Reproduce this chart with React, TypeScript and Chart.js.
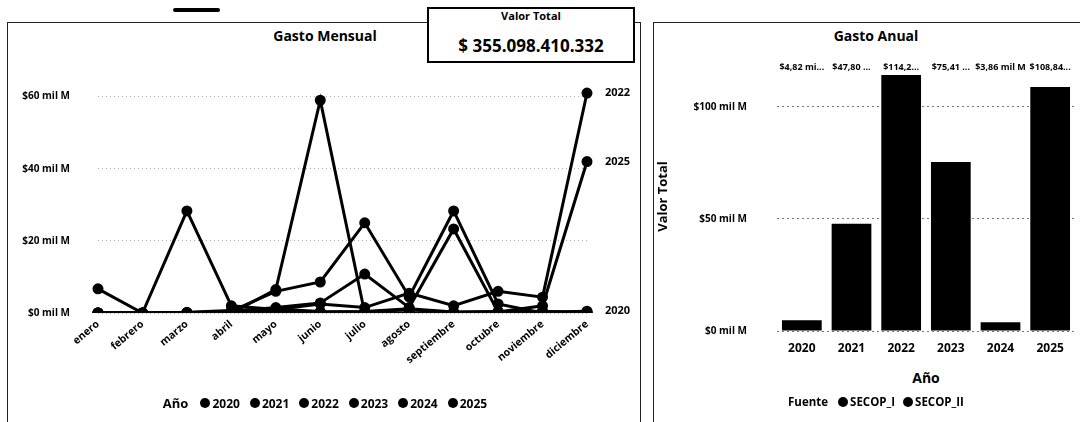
import React, { useEffect, useRef } from 'react';
import { Chart, registerables } from 'chart.js';

Chart.register(...registerables);

const FONT = "'Open Sans', 'Noto Sans', sans-serif";

// ---- Gasto Mensual (line chart) ----
const months = ['enero', 'febrero', 'marzo', 'abril', 'mayo', 'junio', 'julio', 'agosto', 'septiembre', 'octubre', 'noviembre', 'diciembre'];
const years = ['2020', '2021', '2022', '2023', '2024', '2025'];
const gasto2020 = [0, 0, 0.2, 0.7, 1.1, 0.4, 0.3, 0.9, 0.2, 0.3, 0.2, 0.5];
const gasto2021 = [6.7, 0, 0, 0.4, 1.5, 2.8, 10.8, 1.5, 23.3, 0.3, 0.5, 0];
const gasto2022 = [0, 0, 28.3, 2.0, 1.0, 2.5, 1.5, 5.5, 2.0, 6.0, 4.4, 61.0];
const gasto2023 = [0, 0, 0, 0.5, 6.0, 8.6, 25.0, 4.5, 28.3, 2.5, 0, 0];
const gasto2024 = [0, 0, 0, 0.3, 0.5, 0.2, 0.4, 1.2, 0.3, 0.4, 0.3, 0.3];
const gasto2025 = [0, 0, 0, 0, 6.5, 59.0, 0, 0, 0, 0.3, 2.0, 42.0];
const monthlySeries = [gasto2020, gasto2021, gasto2022, gasto2023, gasto2024, gasto2025];
const endLabelYears = ['2022', '2025', '2020'];

// ---- Gasto Anual (bar chart) ----
const yearsAnual = ['2020', '2021', '2022', '2023', '2024', '2025'];
const gastoAnual = [4.82, 47.8, 114.2, 75.41, 3.86, 108.84];
const anualLabels = ['$4,82 mi...', '$47,80 ...', '$114,2...', '$75,41 ...', '$3,86 mil M', '$108,84...'];
const fuentes = ['SECOP_I', 'SECOP_II'];

const totalTitle = 'Valor Total';
const totalText = '$ 355.098.410.332';

const endLabelPlugin = {
  id: 'endLabels',
  afterDatasetsDraw(chart: any) {
    const ctx = chart.ctx;
    ctx.save();
    ctx.font = `bold 11px ${FONT}`;
    ctx.fillStyle = '#000';
    ctx.textBaseline = 'middle';
    ctx.textAlign = 'left';
    chart.data.datasets.forEach((ds: any, i: number) => {
      if (!endLabelYears.includes(ds.label)) return;
      const meta = chart.getDatasetMeta(i);
      const pt = meta.data[meta.data.length - 1];
      ctx.fillText(ds.label, pt.x + 18, pt.y);
    });
    ctx.restore();
  },
};

const barLabelPlugin = {
  id: 'barLabels',
  afterDatasetsDraw(chart: any) {
    const ctx = chart.ctx;
    ctx.save();
    ctx.font = `bold 9px ${FONT}`;
    ctx.fillStyle = '#000';
    ctx.textBaseline = 'middle';
    ctx.textAlign = 'center';
    const meta = chart.getDatasetMeta(0);
    meta.data.forEach((bar: any, i: number) => {
      ctx.fillText(anualLabels[i], bar.x, chart.chartArea.top + 5);
    });
    ctx.restore();
  },
};

function MonthlyChart() {
  const ref = useRef<HTMLCanvasElement | null>(null);
  useEffect(() => {
    if (!ref.current) return;
    const chart = new Chart(ref.current, {
      type: 'line',
      data: {
        labels: months,
        datasets: monthlySeries.map((d, i) => ({
          label: years[i],
          data: d,
          borderColor: '#000',
          backgroundColor: '#000',
          pointBackgroundColor: '#000',
          pointBorderColor: '#000',
          borderWidth: 3,
          pointRadius: 4,
          tension: 0,
        })),
      },
      options: {
        animation: false,
        responsive: false,
        layout: { padding: { top: 53, right: 55, left: 0, bottom: 0 } },
        plugins: { legend: { display: false }, tooltip: { enabled: false } },
        scales: {
          x: {
            grid: { display: false, drawTicks: false, tickLength: 0 },
            border: { display: false },
            ticks: {
              autoSkip: false,
              minRotation: 40,
              maxRotation: 40,
              padding: 5,
              color: '#000',
              font: { size: 10.5, weight: 'bold', family: FONT },
            },
            afterFit: (s: any) => { s.height = 82; },
          },
          y: {
            min: 0,
            max: 66,
            grid: { color: '#aaa', drawTicks: false, tickLength: 0 },
            border: { display: false, dash: [1, 3] },
            ticks: {
              stepSize: 20,
              padding: 28,
              color: '#000',
              font: { size: 10, weight: 'bold', family: FONT },
              callback: (v: any) => `$${v} mil M`,
            },
            afterBuildTicks: (s: any) => { s.ticks = s.ticks.filter((t: any) => t.value % 20 === 0); },
            afterFit: (s: any) => { s.width = 90; },
          },
        },
      } as any,
      plugins: [endLabelPlugin],
    });
    return () => chart.destroy();
  }, []);
  return <canvas ref={ref} width={634} height={373} style={{ position: 'absolute', left: 8, top: 22, width: 634, height: 373 }} />;
}

function AnnualChart() {
  const ref = useRef<HTMLCanvasElement | null>(null);
  useEffect(() => {
    if (!ref.current) return;
    const chart = new Chart(ref.current, {
      type: 'bar',
      data: {
        labels: yearsAnual,
        datasets: [
          {
            label: 'Valor Total',
            data: gastoAnual,
            backgroundColor: '#000',
            barPercentage: 0.8,
            categoryPercentage: 1,
          },
        ],
      },
      options: {
        animation: false,
        responsive: false,
        layout: { padding: { top: 40, right: 5, left: 0, bottom: 0 } },
        plugins: { legend: { display: false }, tooltip: { enabled: false } },
        scales: {
          x: {
            grid: { display: false, drawTicks: false, tickLength: 0 },
            border: { display: false },
            ticks: { padding: 10, color: '#000', font: { size: 12, weight: 'bold', family: FONT } },
            afterFit: (s: any) => { s.height = 29; },
          },
          y: {
            min: 0,
            max: 120,
            grid: { color: '#777', drawTicks: false, tickLength: 0 },
            border: { display: false, dash: [2, 3] },
            ticks: {
              stepSize: 50,
              padding: 30,
              color: '#000',
              font: { size: 10, weight: 'bold', family: FONT },
              callback: (v: any) => `$${v} mil M`,
            },
            title: { display: true, text: 'Valor Total', color: '#000', padding: { top: 2, bottom: 0 }, font: { size: 13, weight: 'bold', family: FONT } },
            afterBuildTicks: (s: any) => { s.ticks = s.ticks.filter((t: any) => t.value % 50 === 0); },
            afterFit: (s: any) => { s.width = 124; },
          },
        },
      } as any,
      plugins: [barLabelPlugin],
    });
    return () => chart.destroy();
  }, []);
  return <canvas ref={ref} width={427} height={345} style={{ position: 'absolute', left: 653, top: 22, width: 427, height: 345 }} />;
}

const dot: React.CSSProperties = { display: 'inline-block', width: 10, height: 10, borderRadius: 5, background: '#000', marginRight: 2 };

export default function App() {
  return (
    <div style={{ position: 'absolute', left: 0, top: 0, width: 1080, height: 422, overflow: 'hidden', background: '#fff', fontFamily: FONT, color: '#000' }}>
      {/* small cut-off element top-left */}
      <div style={{ position: 'absolute', left: 173, top: 8, width: 47, height: 4, background: '#000', borderRadius: 2 }} />

      {/* Left panel */}
      <div style={{ position: 'absolute', left: 7, top: 22, width: 634, height: 420, border: '1.5px solid #222', boxSizing: 'border-box' }} />
      <div style={{ position: 'absolute', left: 8, top: 26, width: 634, textAlign: 'center', fontWeight: 'bold', fontSize: 14 }}>Gasto Mensual</div>
      <MonthlyChart />
      <div style={{ position: 'absolute', left: 8, top: 394, width: 634, display: 'flex', justifyContent: 'center', alignItems: 'center', fontWeight: 'bold', fontSize: 12, gap: 10 }}>
        <span style={{ fontSize: 13, marginRight: 2 }}>Año</span>
        {years.map((y) => (
          <span key={y} style={{ display: 'inline-flex', alignItems: 'center' }}>
            <span style={dot} />
            {y}
          </span>
        ))}
      </div>

      {/* Right panel */}
      <div style={{ position: 'absolute', left: 653, top: 22, width: 440, height: 420, border: '1.5px solid #222', boxSizing: 'border-box' }} />
      <div style={{ position: 'absolute', left: 653, top: 26, width: 446, textAlign: 'center', fontWeight: 'bold', fontSize: 14 }}>Gasto Anual</div>
      <AnnualChart />
      <div style={{ position: 'absolute', left: 777, top: 368, width: 298, textAlign: 'center', fontSize: 14, fontWeight: 'bold' }}>Año</div>
      <div style={{ position: 'absolute', left: 653, top: 394, width: 446, display: 'flex', justifyContent: 'center', alignItems: 'center', fontWeight: 'bold', fontSize: 11.5, gap: 8 }}>
        <span style={{ marginRight: 2 }}>Fuente</span>
        {fuentes.map((f) => (
          <span key={f} style={{ display: 'inline-flex', alignItems: 'center' }}>
            <span style={dot} />
            {f}
          </span>
        ))}
      </div>

      {/* Valor Total card */}
      <div style={{ position: 'absolute', left: 427, top: 7, width: 208, height: 56, border: '2px solid #000', boxSizing: 'border-box', background: '#fff', textAlign: 'center' }}>
        <div style={{ fontSize: 11, fontWeight: 'bold', lineHeight: '14px', marginTop: 0 }}>{totalTitle}</div>
        <div style={{ fontSize: 17, fontWeight: 'bold', lineHeight: '22px', marginTop: 12 }}>{totalText}</div>
      </div>
    </div>
  );
}
